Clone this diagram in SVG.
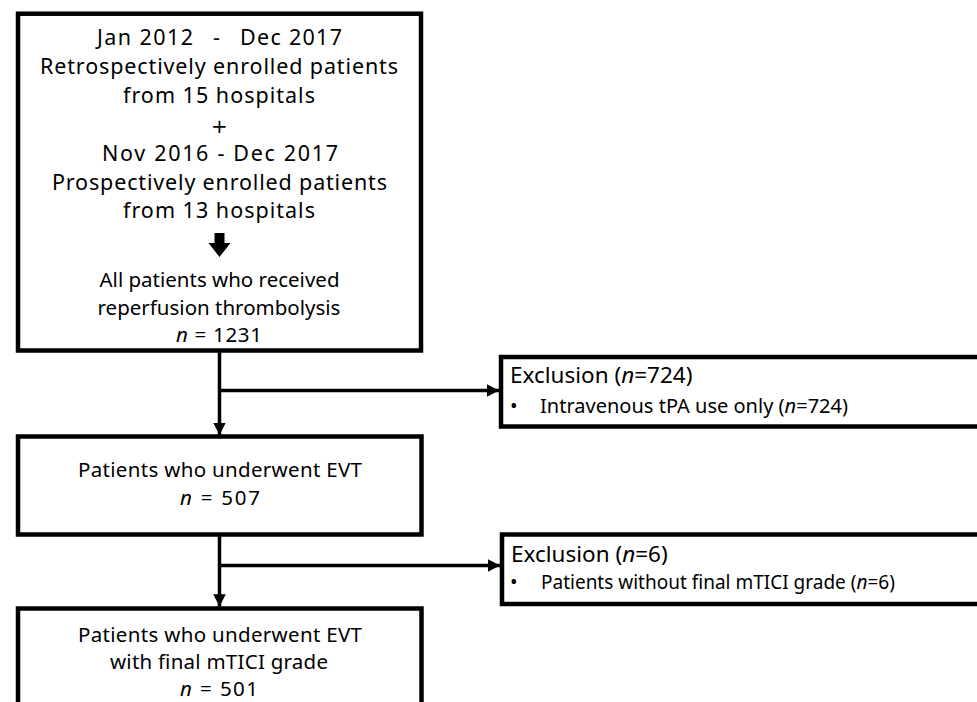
<svg xmlns="http://www.w3.org/2000/svg" width="977" height="702" viewBox="0 0 977 702">
<style>
.box{fill:#fff;stroke:#000;stroke-width:4.5}
.t{font-family:"Noto Sans","Liberation Sans",sans-serif;font-size:21.5px;fill:#000;text-anchor:middle}
.s{font-size:20.5px}
.e{font-family:"Noto Sans","Liberation Sans",sans-serif;font-size:20px;fill:#000}
.h{font-size:22.5px}
.c{fill:none;stroke:#000;stroke-width:3.5}
.i{font-style:italic}
</style>
<defs>
<marker id="ah" markerWidth="3.5" markerHeight="3.6" refX="3.5" refY="1.8" orient="auto" markerUnits="strokeWidth">
<path d="M0,0 L3.5,1.8 L0,3.6 Z" fill="#000"/>
</marker>
</defs>
<rect width="977" height="702" fill="#fff"/>
<g id="connectors">
<line class="c" x1="219.5" y1="352" x2="219.5" y2="435" marker-end="url(#ah)"/>
<line class="c" x1="219.5" y1="390.5" x2="499" y2="390.5" marker-end="url(#ah)"/>
<line class="c" x1="219.5" y1="536" x2="219.5" y2="606.5" marker-end="url(#ah)"/>
<line class="c" x1="219.5" y1="565.5" x2="500" y2="565.5" marker-end="url(#ah)"/>
</g>
<g id="node-enrolled">
<rect class="box" x="18" y="13.7" width="403" height="336.8"/>
<text class="t" x="145" y="45" textLength="96">Jan 2012</text>
<text class="t" x="216.5" y="45">-</text>
<text class="t" x="291" y="45" textLength="102">Dec 2017</text>
<text class="t" x="219" y="74" textLength="358">Retrospectively enrolled patients</text>
<text class="t" x="219" y="102.5" textLength="192">from 15 hospitals</text>
<text class="t" x="219.5" y="133" style="font-family:'DejaVu Sans',sans-serif;font-size:20px">+</text>
<text class="t" x="220" y="161" textLength="236">Nov 2016 - Dec 2017</text>
<text class="t" x="219.5" y="189.5" textLength="335">Prospectively enrolled patients</text>
<text class="t" x="219" y="218" textLength="192">from 13 hospitals</text>
<polygon points="214.5,233 224.5,233 224.5,243 230.5,243 219.5,257 208.5,243 214.5,243" fill="#000"/>
<text class="t s" x="219.5" y="287">All patients who received</text>
<text class="t s" x="219" y="314.5">reperfusion thrombolysis</text>
<text class="t s" x="219" y="342" textLength="86"><tspan class="i">n</tspan> = 1231</text>
</g>
<g id="node-exclusion1">
<rect class="box" x="501" y="357" width="500" height="69.5"/>
<text class="e h" x="510" y="383">Exclusion (<tspan class="i">n</tspan>=724)</text>
<text class="e" x="510" y="413">•</text>
<text class="e" x="540" y="413" textLength="308">Intravenous tPA use only (<tspan class="i">n</tspan>=724)</text>
</g>
<g id="node-evt">
<rect class="box" x="18" y="436.5" width="403.5" height="98"/>
<text class="t s" x="220" y="477" textLength="284">Patients who underwent EVT</text>
<text class="t s" x="220" y="505" textLength="80"><tspan class="i">n</tspan> = 507</text>
</g>
<g id="node-exclusion2">
<rect class="box" x="502" y="534.5" width="500" height="69.5"/>
<text class="e h" x="511" y="561.5">Exclusion (<tspan class="i">n</tspan>=6)</text>
<text class="e" x="510" y="588.5">•</text>
<text class="e" x="541" y="588.5" style="font-size:19px">Patients without final mTICI grade (<tspan class="i">n</tspan>=6)</text>
</g>
<g id="node-final">
<rect class="box" x="18" y="608.5" width="403.5" height="120"/>
<text class="t s" x="220" y="641.5" textLength="284">Patients who underwent EVT</text>
<text class="t s" x="219" y="668.5" textLength="218">with final mTICI grade</text>
<text class="t s" x="219" y="695.5" textLength="78"><tspan class="i">n</tspan> = 501</text>
</g>
</svg>
